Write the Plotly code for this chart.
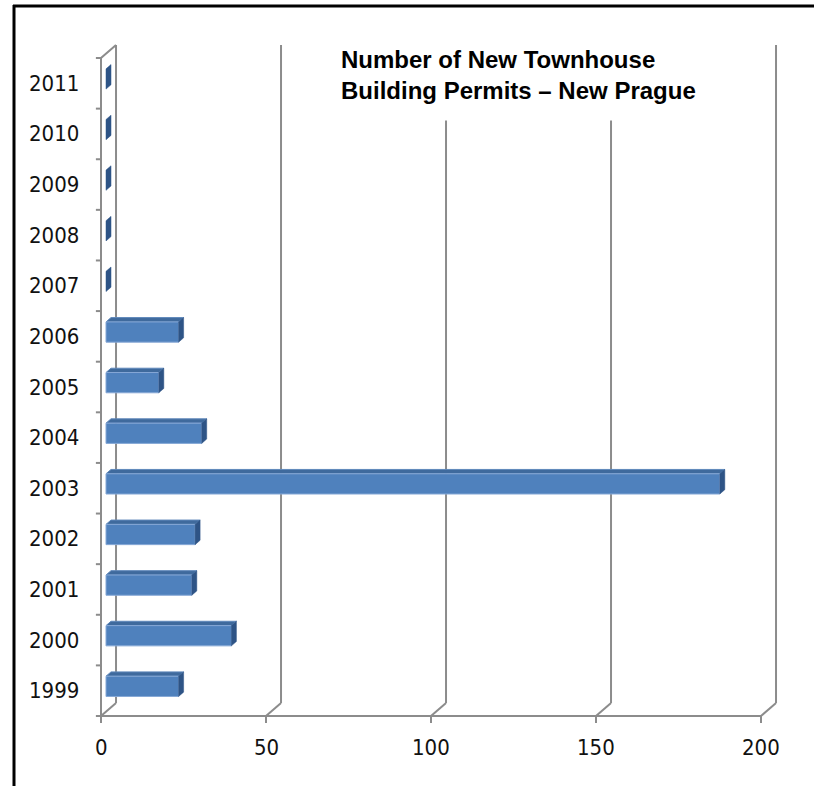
import plotly.graph_objects as go

# ---- data -------------------------------------------------------------
years = ["1999", "2000", "2001", "2002", "2003", "2004", "2005",
         "2006", "2007", "2008", "2009", "2010", "2011"]
permits = [22, 38, 26, 27, 186, 29, 16, 22, 0, 0, 0, 0, 0]
x_ticks = [0, 50, 100, 150, 200]
title_lines = ["Number of New Townhouse", "Building Permits \u2013 New Prague"]

# ---- oblique 3-D box geometry (axis units) ------------------------------
DEPTH_X = 4.55      # horizontal shift of the back wall
DEPTH_Y = 0.257     # vertical shift of the back wall
BAR_HALF = 0.2      # half the bar thickness (category units)
X_MAX = x_ticks[-1]
N = len(years)

GRID = "#8c8c8c"
FRONT = "#4F81BD"
TOP = "#3F6A9D"
SIDE = "#2E5486"

fig = go.Figure()


def add_path(xs, ys, **kw):
    fig.add_trace(go.Scatter(x=xs, y=ys, mode="lines", hoverinfo="skip",
                             showlegend=False, **kw))


# back wall gridlines, floor diagonals and left wall
gx, gy = [], []
for t in x_ticks:
    gx += [t + DEPTH_X, t + DEPTH_X, None]
    gy += [DEPTH_Y, N + DEPTH_Y, None]
    gx += [t, t + DEPTH_X, None]
    gy += [0, DEPTH_Y, None]
gx += [0, 0, DEPTH_X, None]
gy += [0, N, N + DEPTH_Y, None]
add_path(gx, gy, line=dict(color=GRID, width=2))

# bars: front, top and side faces, placed at a third of the box depth
fx, fy, tx, ty, sx, sy = [], [], [], [], [], []
dx, dy = DEPTH_X / 3, DEPTH_Y / 3
for i, v in enumerate(permits):
    x0 = dx
    x1 = dx + v
    yc = i + 0.5 + dy
    lo, hi = yc - BAR_HALF, yc + BAR_HALF
    if v > 0:
        fx += [x0, x1, x1, x0, x0, None]
        fy += [lo, lo, hi, hi, lo, None]
        tx += [x0, x1, x1 + dx, x0 + dx, x0, None]
        ty += [hi, hi, hi + dy, hi + dy, hi, None]
    sx += [x1, x1 + dx, x1 + dx, x1, x1, None]
    sy += [lo, lo + dy, hi + dy, hi, lo, None]

add_path(tx, ty, fill="toself", fillcolor=TOP, line=dict(color="#5f88bb", width=1))
add_path(fx, fy, fill="toself", fillcolor=FRONT, line=dict(color="#86a8d6", width=1))
add_path(sx, sy, fill="toself", fillcolor=SIDE, line=dict(color=SIDE, width=0.5))

# front axis lines and tick marks
ax, ay = [0, X_MAX, None], [0, 0, None]
for t in x_ticks:
    ax += [t, t, None]
    ay += [0, -0.14, None]
for k in range(N + 1):
    ax += [-1.55, 0, None]
    ay += [k, k, None]
add_path(ax, ay, line=dict(color=GRID, width=2))

label_font = dict(family="Liberation Sans Narrow, DejaVu Sans Condensed, sans-serif",
                  size=22, color="#111111")
for i, yr in enumerate(years):
    fig.add_annotation(x=-6.2, y=i + 0.5, text=yr, showarrow=False,
                       xanchor="right", yanchor="middle", font=label_font)
for t in x_ticks:
    fig.add_annotation(x=t, y=-0.63, text=str(t), showarrow=False,
                       xanchor="center", yanchor="middle", font=label_font)

# chart title on a white box that hides the gridlines behind it
fig.add_annotation(
    xref="paper", yref="paper", x=324 / 814, y=1 - 29 / 786,
    xanchor="left", yanchor="top", align="left", showarrow=False,
    text="<br>".join(f"<b>{s}</b>" for s in title_lines),
    font=dict(family="Liberation Sans, Arial, sans-serif", size=24, color="black"),
    bgcolor="white", borderpad=16,
)

# outer frame (top and left edges)
fig.add_shape(type="line", xref="paper", yref="paper",
              x0=13 / 814, x1=1, y0=1 - 6 / 786, y1=1 - 6 / 786,
              line=dict(color="black", width=3))
fig.add_shape(type="line", xref="paper", yref="paper",
              x0=14 / 814, x1=14 / 814, y0=0, y1=1 - 5 / 786,
              line=dict(color="black", width=3))

SX = 3.3      # pixels per value unit
SY = 50.615   # pixels per category
fig.update_layout(
    width=814, height=786,
    margin=dict(l=0, r=0, t=0, b=0),
    paper_bgcolor="white", plot_bgcolor="white",
    xaxis=dict(range=[-101 / SX, (814 - 101) / SX], visible=False, fixedrange=True),
    yaxis=dict(range=[-(786 - 716) / SY, 716 / SY], visible=False, fixedrange=True),
    showlegend=False,
)

fig.write_html("out.html")
